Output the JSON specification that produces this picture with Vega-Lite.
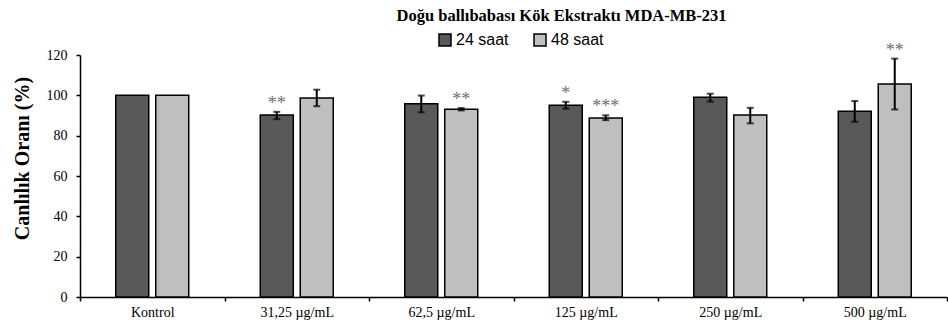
{
  "$schema": "https://vega.github.io/schema/vega-lite/v6.json",
  "width": 867,
  "height": 242,
  "autosize": {"type": "none"},
  "padding": {"left": 80, "top": 55, "right": 1, "bottom": 27},
  "background": "white",
  "title": {
    "text": "Doğu ballıbabası Kök Ekstraktı MDA-MB-231",
    "font": "Liberation Serif",
    "fontSize": 16.5,
    "fontWeight": "bold",
    "color": "black",
    "anchor": "middle",
    "dx": 48,
    "dy": -4
  },
  "config": {"view": {"stroke": null}},
  "data": {
    "values": [
      {"conc": "Kontrol", "time": "24 saat", "mean": 100, "lo": null, "hi": null, "sig": null},
      {"conc": "Kontrol", "time": "48 saat", "mean": 100, "lo": null, "hi": null, "sig": null},
      {"conc": "31,25 µg/mL", "time": "24 saat", "mean": 90.2, "lo": 88.2, "hi": 91.8, "sig": "**"},
      {"conc": "31,25 µg/mL", "time": "48 saat", "mean": 98.7, "lo": 94.6, "hi": 102.8, "sig": null},
      {"conc": "62,5 µg/mL", "time": "24 saat", "mean": 95.8, "lo": 91.6, "hi": 99.9, "sig": null},
      {"conc": "62,5 µg/mL", "time": "48 saat", "mean": 93.1, "lo": 92.5, "hi": 93.7, "sig": "**"},
      {"conc": "125 µg/mL", "time": "24 saat", "mean": 95.1, "lo": 93.4, "hi": 96.8, "sig": "*"},
      {"conc": "125 µg/mL", "time": "48 saat", "mean": 88.8, "lo": 87.7, "hi": 90.1, "sig": "***"},
      {"conc": "250 µg/mL", "time": "24 saat", "mean": 99.1, "lo": 96.9, "hi": 100.8, "sig": null},
      {"conc": "250 µg/mL", "time": "48 saat", "mean": 90.2, "lo": 86.1, "hi": 93.8, "sig": null},
      {"conc": "500 µg/mL", "time": "24 saat", "mean": 92.1, "lo": 86.9, "hi": 97.2, "sig": null},
      {"conc": "500 µg/mL", "time": "48 saat", "mean": 105.6, "lo": 93.0, "hi": 118.2, "sig": "**"}
    ]
  },
  "encoding": {
    "x": {
      "field": "conc",
      "type": "nominal",
      "sort": null,
      "scale": {"paddingInner": 0, "paddingOuter": 0},
      "axis": {
        "title": null,
        "labelAngle": 0,
        "labelFont": "Liberation Serif",
        "labelFontSize": 14,
        "labelColor": "black",
        "tickBand": "extent",
        "tickSize": 4,
        "tickColor": "black",
        "tickWidth": 1.5,
        "domainColor": "black",
        "domainWidth": 1.5,
        "labelPadding": 4
      }
    },
    "xOffset": {
      "field": "time",
      "type": "nominal",
      "scale": {"paddingInner": 0.175, "paddingOuter": 0.894}
    }
  },
  "layer": [
    {
      "mark": {"type": "bar", "stroke": "black", "strokeWidth": 1.5},
      "encoding": {
        "y": {
          "field": "mean",
          "type": "quantitative",
          "scale": {"domain": [0, 120]},
          "axis": {
            "title": "Canlılık Oranı (%)",
            "values": [0, 20, 40, 60, 80, 100, 120],
            "grid": false,
            "tickSize": 4,
            "tickColor": "black",
            "tickWidth": 1.5,
            "domainColor": "black",
            "domainWidth": 1.5,
            "labelFont": "Liberation Serif",
            "labelFontSize": 14,
            "labelColor": "black",
            "labelPadding": 9,
            "titleFont": "Liberation Serif",
            "titleFontSize": 20,
            "titleFontWeight": "bold",
            "titleColor": "black",
            "titleX": -48,
            "titleY": 103
          }
        },
        "fill": {
          "field": "time",
          "type": "nominal",
          "scale": {"domain": ["24 saat", "48 saat"], "range": ["#595959", "#bfbfbf"]},
          "legend": {
            "orient": "none",
            "legendX": 357,
            "legendY": -23,
            "direction": "horizontal",
            "title": null,
            "symbolType": "square",
            "symbolSize": 144,
            "symbolStrokeColor": "black",
            "symbolStrokeWidth": 1.5,
            "labelFont": "Liberation Sans",
            "labelFontSize": 16,
            "labelColor": "black",
            "labelOffset": 3,
            "columnPadding": 22,
            "padding": 0
          }
        }
      }
    },
    {
      "mark": {"type": "rule", "color": "black", "strokeWidth": 2},
      "encoding": {
        "y": {"field": "lo", "type": "quantitative", "title": "Canlılık Oranı (%)"},
        "y2": {"field": "hi"}
      }
    },
    {
      "mark": {"type": "tick", "color": "black", "size": 7, "thickness": 2},
      "encoding": {
        "y": {"field": "lo", "type": "quantitative", "title": "Canlılık Oranı (%)"}
      }
    },
    {
      "mark": {"type": "tick", "color": "black", "size": 7, "thickness": 2},
      "encoding": {
        "y": {"field": "hi", "type": "quantitative", "title": "Canlılık Oranı (%)"}
      }
    },
    {
      "transform": [{"filter": "datum.sig != null"}],
      "mark": {"type": "text", "font": "Liberation Serif", "fontSize": 18, "fill": "#707070", "baseline": "alphabetic", "dy": -3},
      "encoding": {
        "y": {"field": "hi", "type": "quantitative", "title": "Canlılık Oranı (%)"},
        "text": {"field": "sig"}
      }
    }
  ]
}
